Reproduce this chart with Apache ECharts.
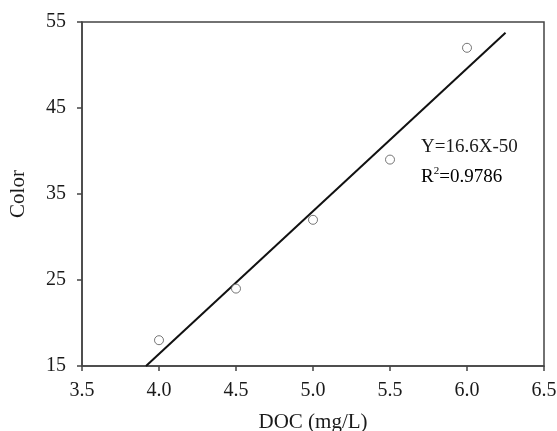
<!DOCTYPE html>
<html><head><meta charset="utf-8">
<script src="https://cdn.jsdelivr.net/npm/echarts@6/dist/echarts.min.js"></script>
<style>html,body{margin:0;padding:0;background:#fff}#c{width:557px;height:431px}</style>
</head><body><div id="c"></div>
<script>
const docValues = [4.0, 4.5, 5.0, 5.5, 6.0];
const colorValues = [18, 24, 32, 39, 52];
const fitSlope = 16.6;
const fitIntercept = -50;
const fitXStart = 3.9157;
const fitXEnd = 6.25;
const eqText = 'Y=16.6X-50';
const r2Text = '0.9786';

const scatterData = docValues.map((x, i) => [x, colorValues[i]]);
const fitData = [fitXStart, fitXEnd].map(x => [x, fitSlope * x + fitIntercept]);
const font = '"Liberation Serif", "Times New Roman", serif';

const chart = echarts.init(document.getElementById('c'));
chart.setOption({
  animation: false,
  backgroundColor: '#fff',
  grid: { left: 82, right: 13, top: 22, bottom: 65, containLabel: false, outerBoundsMode: 'none',
    show: true, borderColor: '#444', borderWidth: 1.5, backgroundColor: 'transparent' },
  xAxis: {
    type: 'value', min: 3.5, max: 6.5, interval: 0.5,
    name: 'DOC (mg/L)', nameLocation: 'middle', nameGap: 46,
    nameTextStyle: { fontFamily: font, fontSize: 21, color: '#1a1a1a' },
    axisLine: { show: true, lineStyle: { color: '#444', width: 1.5 } },
    axisTick: { show: true, inside: false, length: 5, lineStyle: { color: '#444', width: 1.5 } },
    axisLabel: { fontFamily: font, fontSize: 20, color: '#1a1a1a', margin: 15, formatter: v => v.toFixed(1) },
    splitLine: { show: false }
  },
  yAxis: {
    type: 'value', min: 15, max: 55, interval: 10,
    name: 'Color', nameLocation: 'middle', nameGap: 53,
    nameTextStyle: { fontFamily: font, fontSize: 21, color: '#1a1a1a' },
    axisLine: { show: true, lineStyle: { color: '#444', width: 1.5 } },
    axisTick: { show: true, inside: false, length: 5, lineStyle: { color: '#444', width: 1.5 } },
    axisLabel: { fontFamily: font, fontSize: 20, color: '#1a1a1a', margin: 16 },
    splitLine: { show: false }
  },
  series: [
    { type: 'line', data: fitData, symbol: 'none', lineStyle: { color: '#111', width: 2 }, z: 2 },
    { type: 'scatter', data: scatterData, symbol: 'circle', symbolSize: 9,
      itemStyle: { color: '#fff', borderColor: '#555', borderWidth: 1 }, z: 3 }
  ],
  graphic: [
    { type: 'text', left: 421, top: 138, style: { text: eqText, font: '19px ' + font, fill: '#1a1a1a' } },
    { type: 'text', left: 421, top: 166, style: {
        text: '{a|R}{s|2}{a|=' + r2Text + '}',
        rich: {
          a: { fontFamily: font, fontSize: 19, color: '#1a1a1a', verticalAlign: 'bottom' },
          s: { fontFamily: font, fontSize: 11, color: '#1a1a1a', verticalAlign: 'top', padding: [0, 0, 10, 0] }
        }
    } }
  ]
});
</script></body></html>
